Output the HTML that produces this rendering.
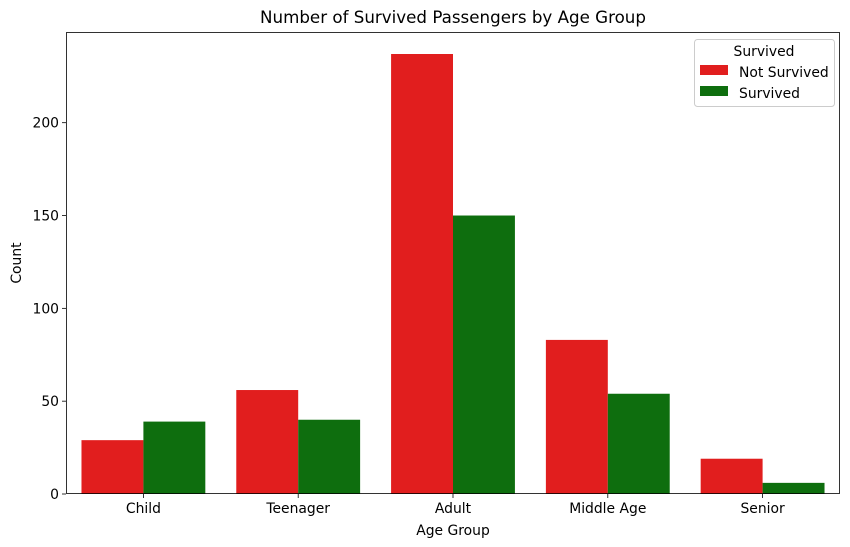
<!DOCTYPE html>
<html><head><meta charset="utf-8"><style>
html,body{margin:0;padding:0;background:#fff;}
svg{display:block;font-family:"DejaVu Sans","Liberation Sans",sans-serif;}
</style></head><body>
<svg id="chart" width="850" height="547">
<text x="453" y="23" font-size="16.7" text-anchor="middle">Number of Survived Passengers by Age Group</text>
<g id="plot"></g>
<rect x="66.5" y="32.5" width="773" height="461" fill="none" stroke="#000" stroke-width="0.8"/>
<text x="453" y="535" font-size="13.9" text-anchor="middle">Age Group</text>
<text x="21" y="263" font-size="13.9" text-anchor="middle" transform="rotate(-90 21 263)">Count</text>
<g>
<rect x="694.5" y="39.5" width="140" height="67" rx="3" fill="#fff" fill-opacity="0.8" stroke="#ccc"/>
<text x="764" y="56" font-size="13.9" text-anchor="middle">Survived</text>
<g><rect x="700" y="65" width="28" height="10" fill="#e11e1e"/><text x="739" y="77" font-size="13.9">Not Survived</text></g>
<g><rect x="700" y="86" width="28" height="10" fill="#0e6e0e"/><text x="739" y="98" font-size="13.9">Survived</text></g>
</g>
</svg>
<script>
const categories=["Child","Teenager","Adult","Middle Age","Senior"];
const notSurvived=[29,56,237,83,19];
const survived=[39,40,150,54,6];
const yTicks=[0,50,100,150,200];
const L=66,R=840,T=32,B=494,yMax=248.85;
const xs=i=>L+(i+0.5)*(R-L)/categories.length;
const ys=v=>B-v/yMax*(B-T);
const bw=0.4*(R-L)/categories.length;
const g=document.getElementById('plot');
const NS="http://www.w3.org/2000/svg";
function mk(t,a){const e=document.createElementNS(NS,t);for(const k in a)e.setAttribute(k,a[k]);g.appendChild(e);return e;}
categories.forEach((c,i)=>{
  const cx=xs(i);
  let r=mk('rect',{x:cx-bw,y:ys(notSurvived[i]),width:bw,height:B-ys(notSurvived[i]),fill:'#e11e1e'});
  
  
  let s=mk('rect',{x:cx,y:ys(survived[i]),width:bw,height:B-ys(survived[i]),fill:'#0e6e0e'});
  
  
  let tk=mk('line',{x1:cx,x2:cx,y1:B,y2:B+4,stroke:'#000','stroke-width':0.8});
  
  
  let t=mk('text',{x:cx,y:B+19,'font-size':13.9,'text-anchor':'middle'});
  t.textContent=c;
  
  
});
yTicks.forEach(v=>{
  const y=ys(v);
  let tk=mk('line',{x1:L-4,x2:L,y1:y,y2:y,stroke:'#000','stroke-width':0.8});
  
  
  let t=mk('text',{x:L-7,y:y+5,'font-size':13.9,'text-anchor':'end'});
  t.textContent=v;
  
  
});
</script>
</body></html>
